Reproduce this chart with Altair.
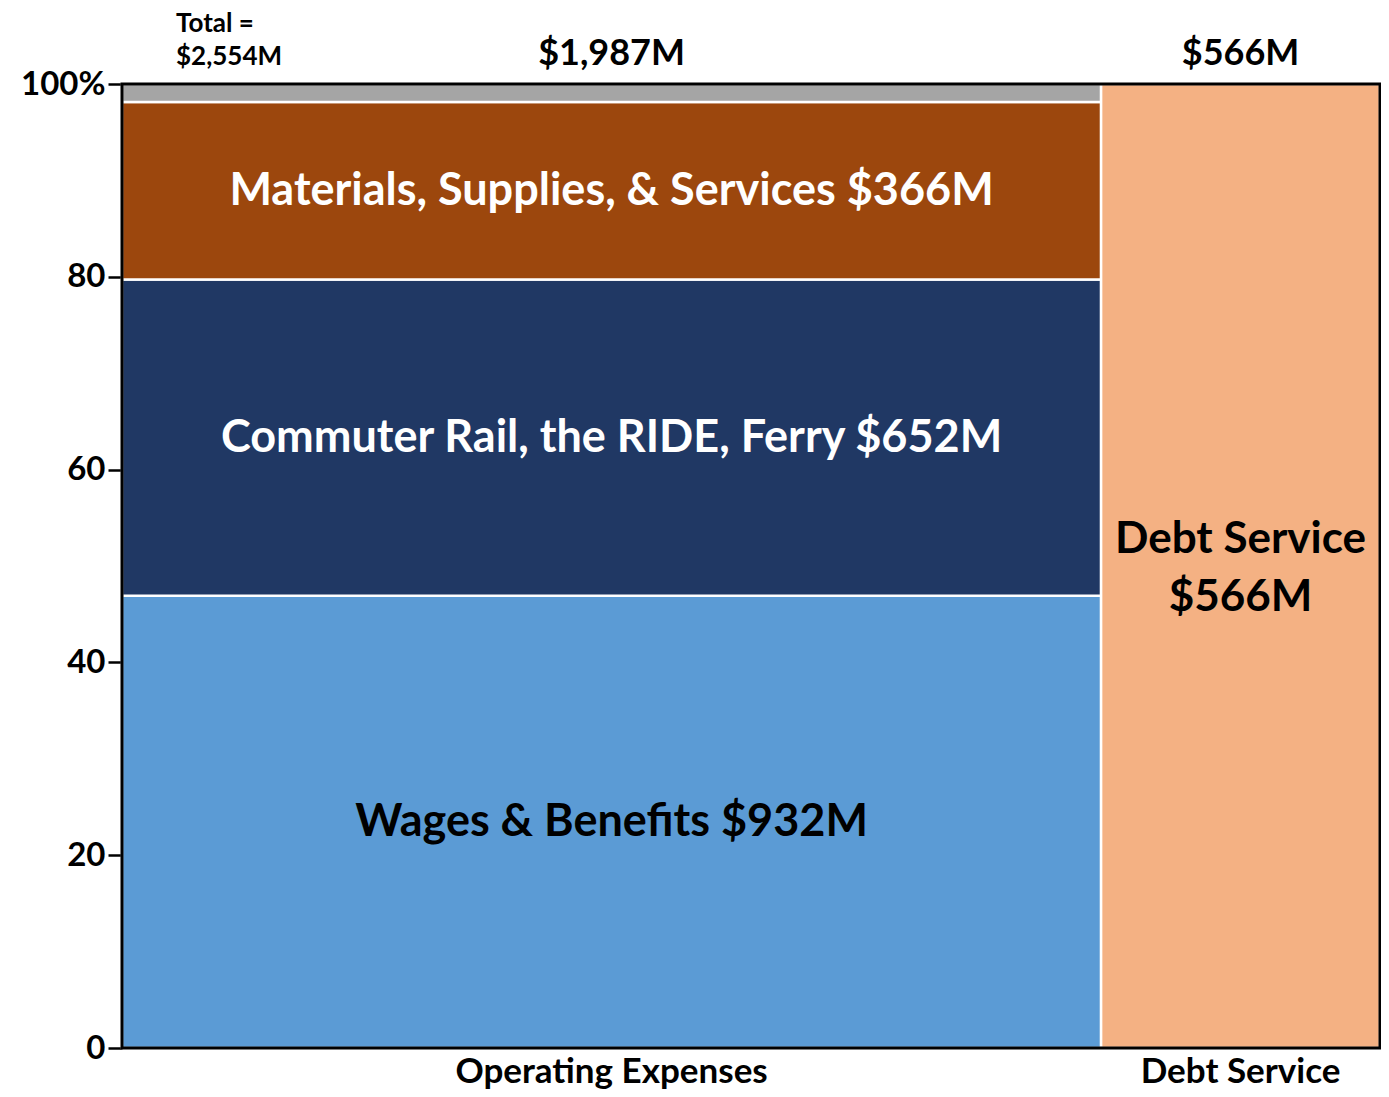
import altair as alt
import pandas as pd

# ---- data ----
columns = ["Operating Expenses", "Debt Service"]
column_labels = ["$1,987M", "$566M"]
total_lines = ["Total =", "$2,554M"]

op_segments = ["Wages & Benefits", "Commuter Rail, the RIDE, Ferry",
               "Materials, Supplies, & Services", "Other"]
op_values = [932, 652, 366, 37]
op_text = ["Wages & Benefits $932M", "Commuter Rail, the RIDE, Ferry $652M",
           "Materials, Supplies, & Services $366M", ""]
debt_segments = ["Debt Service"]
debt_values = [566]
debt_text = ["Debt Service\n$566M"]

seg_colors = {
    "Wages & Benefits": "#5B9BD5",
    "Commuter Rail, the RIDE, Ferry": "#203864",
    "Materials, Supplies, & Services": "#9C470D",
    "Other": "#A5A5A5",
    "Debt Service": "#F4B183",
}
text_colors = {
    "Wages & Benefits": "#000000",
    "Commuter Rail, the RIDE, Ferry": "#FFFFFF",
    "Materials, Supplies, & Services": "#FFFFFF",
    "Other": "#000000",
    "Debt Service": "#000000",
}

# ---- build marimekko table ----
col_totals = [sum(op_values), sum(debt_values)]
grand = sum(col_totals)
rows = []
x_start = 0
for col, segs, vals, txts, tot in zip(columns, [op_segments, debt_segments],
                                      [op_values, debt_values], [op_text, debt_text], col_totals):
    y_start = 0.0
    for s, v, t in zip(segs, vals, txts):
        pct = v / tot * 100
        rows.append(dict(column=col, segment=s, value=v, text=t,
                         x0=x_start, x1=x_start + tot, xm=x_start + tot / 2,
                         y0=y_start, y1=y_start + pct, ym=y_start + pct / 2))
        y_start += pct
    x_start += tot
df = pd.DataFrame(rows)

cols_df = pd.DataFrame({
    "column": columns,
    "label": column_labels,
    "xm": [sum(col_totals[:i]) + t / 2 for i, t in enumerate(col_totals)],
})

W, H = 1258, 964
FONT = "Lato"

xs = alt.Scale(domain=[0, grand], nice=False, zero=False)
ys = alt.Scale(domain=[0, 100], nice=False)

bars = alt.Chart(df).mark_rect(stroke="white", strokeWidth=2.5).encode(
    x=alt.X("x0:Q", scale=xs, axis=None),
    x2="x1:Q",
    y=alt.Y("y0:Q", scale=ys, axis=alt.Axis(
        values=[0, 20, 40, 60, 80, 100], title=None, grid=False, domain=False,
        tickSize=14, tickWidth=2.5, tickColor="black",
        labelFont=FONT, labelFontSize=33, labelFontWeight="bold", labelColor="black",
        labelPadding=3,
        labelExpr="datum.value == 100 ? '100%' : datum.label")),
    y2="y1:Q",
    color=alt.Color("segment:N", scale=alt.Scale(domain=list(seg_colors.keys()),
                                                  range=list(seg_colors.values())),
                    legend=None),
)

frame = alt.Chart(pd.DataFrame({"a": [0], "b": [grand], "c": [0], "d": [100]})).mark_rect(
    filled=False, stroke="black", strokeWidth=3
).encode(x=alt.X("a:Q", scale=xs), x2="b:Q", y=alt.Y("c:Q", scale=ys), y2="d:Q")

inner = alt.Chart(df[df.column == "Operating Expenses"]).mark_text(
    font=FONT, fontSize=45, fontWeight="bold", baseline="middle", align="center"
).encode(
    x=alt.X("xm:Q", scale=xs), y=alt.Y("ym:Q", scale=ys), text="text:N",
    color=alt.Color("segment:N", scale=alt.Scale(domain=list(text_colors.keys()),
                                                  range=list(text_colors.values())),
                    legend=None),
)

debt_lbl = alt.Chart(df[df.column == "Debt Service"]).mark_text(
    font=FONT, fontSize=44, fontWeight="bold", baseline="middle", align="center",
    lineBreak="\n", lineHeight=58, dy=-26, color="black"
).encode(x=alt.X("xm:Q", scale=xs), y=alt.Y("ym:Q", scale=ys), text="text:N")

top_lbl = alt.Chart(cols_df).mark_text(
    font=FONT, fontSize=36, fontWeight="bold", baseline="middle", align="center", color="black"
).encode(x=alt.X("xm:Q", scale=xs), y=alt.value(-30), text="label:N")

bottom_lbl = alt.Chart(cols_df).mark_text(
    font=FONT, fontSize=35, fontWeight="bold", baseline="alphabetic", align="center", color="black"
).encode(x=alt.X("xm:Q", scale=xs), y=alt.value(H + 35), text="column:N")

total_l1 = alt.Chart(pd.DataFrame({"t": [total_lines[0]]})).mark_text(
    font=FONT, fontSize=26, fontWeight="bold", baseline="alphabetic", align="left", color="black"
).encode(x=alt.value(54), y=alt.value(-52), text="t:N")

total_l2 = alt.Chart(pd.DataFrame({"t": [total_lines[1]]})).mark_text(
    font=FONT, fontSize=26, fontWeight="bold", baseline="alphabetic", align="left", color="black"
).encode(x=alt.value(54), y=alt.value(-19), text="t:N")

chart = alt.layer(bars, frame, inner, debt_lbl, top_lbl, bottom_lbl, total_l1, total_l2).properties(
    width=W, height=H,
    autosize=alt.AutoSizeParams(type="none"),
    padding={"left": 114, "top": 76, "right": 1, "bottom": 41},
).configure_view(stroke=None).resolve_scale(color="independent")

chart.save("out.html", embed_options={"renderer": "svg", "actions": False})
